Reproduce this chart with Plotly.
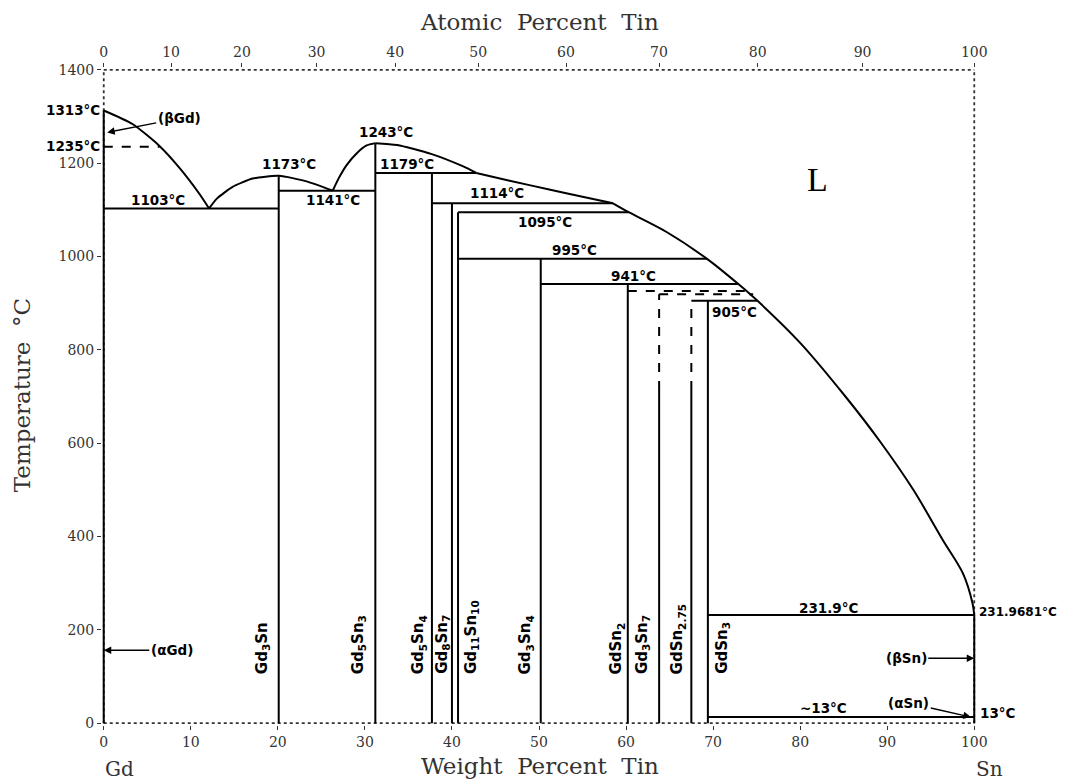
import plotly.graph_objects as go

# molar masses, used only to place the atomic-percent ticks on the top axis
M_GD = 157.25
M_SN = 118.71

# ---------------- data (wt% Sn, temperature in C) ----------------
# liquidus branches
liq_gd_x = [0, 3.3, 6.4, 8.7, 11.0, 12.1]
liq_gd_t = [1313, 1284, 1237, 1190, 1134, 1103]

liq_gd3sn_x = [12.1, 13.0, 14.8, 17.1, 20.1, 23.3, 26.3]
liq_gd3sn_t = [1103, 1124, 1149, 1167, 1173, 1161, 1141]

liq_gd5sn3_x = [26.3, 27.0, 27.9, 29.1, 30.2, 31.2]
liq_gd5sn3_t = [1141, 1168, 1196, 1222, 1238, 1243]

liq_a_x = [31.2, 33.7, 37.6, 41.3, 42.8]
liq_a_t = [1243, 1239, 1220, 1193, 1179]

liq_b_x = [42.8, 46.5, 51.3, 55.0, 58.5]
liq_b_t = [1179, 1163, 1143, 1128, 1114]

liq_c_x = [58.5, 60.3, 64.7, 69.3, 72.9, 75.1, 80.0, 85.2, 89.2, 93.0, 96.4, 98.7, 99.8, 100]
liq_c_t = [1114, 1095, 1052, 995, 941, 905, 815, 700, 603, 500, 392, 321, 257, 231.9681]

# solid invariant lines
iso_t = [1103, 1141, 1179, 1114, 1095, 995, 941, 905, 231.9681, 13]
iso_x0 = [0, 20.1, 31.2, 37.7, 40.7, 40.7, 50.2, 67.5, 69.4, 69.4]
iso_x1 = [20.1, 31.2, 42.8, 58.5, 60.3, 69.3, 72.9, 75.1, 100, 100]

# dashed (uncertain) horizontals
dash_iso_t = [1235, 926, 919]
dash_iso_x0 = [0, 60.2, 63.8]
dash_iso_x1 = [6.4, 74.0, 74.6]

# compounds and pure elements (vertical lines)
phase_x = [0, 20.1, 31.2, 37.7, 40.0, 40.7, 50.2, 60.2, 63.8, 67.5, 69.4, 100]
phase_top = [1313, 1173, 1243, 1179, 1114, 1095, 995, 941, 714, 714, 905, 231.9681]

dash_phase_x = [63.8, 67.5]
dash_phase_lo = [714, 714]
dash_phase_hi = [919, 905]

phase_names = ["Gd<sub>3</sub>Sn", "Gd<sub>5</sub>Sn<sub>3</sub>", "Gd<sub>5</sub>Sn<sub>4</sub>",
               "Gd<sub>8</sub>Sn<sub>7</sub>", "Gd<sub>11</sub>Sn<sub>10</sub>",
               "Gd<sub>3</sub>Sn<sub>4</sub>", "GdSn<sub>2</sub>", "Gd<sub>3</sub>Sn<sub>7</sub>",
               "GdSn<sub>2.75</sub>", "GdSn<sub>3</sub>"]
name_x = [18.2, 29.3, 36.2, 38.9, 42.2, 48.5, 58.9, 61.9, 65.9, 71.0]

temp_labels = ["1103°C", "1173°C", "1141°C", "1243°C", "1179°C", "1114°C", "1095°C",
               "995°C", "941°C", "905°C", "231.9°C", "~13°C"]
temp_x = [6.2, 21.3, 26.3, 32.4, 34.8, 45.2, 50.7, 54.1, 60.8, 72.4, 83.3, 82.7]
temp_t = [1121, 1199, 1121, 1267, 1199, 1136, 1074, 1014, 958, 881, 247, 32]

wt_ticks = list(range(0, 101, 10))
at_ticks = list(range(0, 101, 10))
t_ticks = list(range(0, 1401, 200))


def at_to_wt(a):
    return 100 * a * M_SN / (a * M_SN + (100 - a) * M_GD)


def segs(x0s, x1s, ys):
    xs, yy = [], []
    for a, b, y in zip(x0s, x1s, ys):
        xs += [a, b, None]
        yy += [y, y, None]
    return xs, yy


def vsegs(xs_in, lo, hi):
    xs, yy = [], []
    for x, a, b in zip(xs_in, lo, hi):
        xs += [x, x, None]
        yy += [a, b, None]
    return xs, yy


LINE = dict(color="black", width=2)
DASH = dict(color="black", width=2, dash="dash")
LBL = dict(family="DejaVu Sans", size=13.5, color="black", weight="bold")
VLBL = dict(family="DejaVu Sans", size=15, color="black", weight="bold")
TICKF = dict(family="DejaVu Serif", size=14, color="#333")
TITLEF = dict(family="DejaVu Serif", size=23, color="#333")

fig = go.Figure()

for lx, lt, sm in [(liq_gd_x, liq_gd_t, 0.6), (liq_gd3sn_x, liq_gd3sn_t, 0.6),
                   (liq_gd5sn3_x, liq_gd5sn3_t, 0.6), (liq_a_x, liq_a_t, 0.6),
                   (liq_b_x, liq_b_t, 0.6), (liq_c_x, liq_c_t, 0.9)]:
    fig.add_trace(go.Scatter(x=lx, y=lt, mode="lines",
                             line=dict(LINE, shape="spline", smoothing=sm),
                             hoverinfo="skip"))

hx, hy = segs(iso_x0, iso_x1, iso_t)
fig.add_trace(go.Scatter(x=hx, y=hy, mode="lines", line=LINE, hoverinfo="skip"))
hx, hy = segs(dash_iso_x0, dash_iso_x1, dash_iso_t)
fig.add_trace(go.Scatter(x=hx, y=hy, mode="lines", line=DASH, hoverinfo="skip"))

vx, vy = vsegs(phase_x, [0] * len(phase_x), phase_top)
fig.add_trace(go.Scatter(x=vx, y=vy, mode="lines", line=LINE, hoverinfo="skip"))
vx, vy = vsegs(dash_phase_x, dash_phase_lo, dash_phase_hi)
fig.add_trace(go.Scatter(x=vx, y=vy, mode="lines", line=DASH, hoverinfo="skip"))

# invisible trace so the top (atomic %) axis is drawn
fig.add_trace(go.Scatter(x=[0, 100], y=[0, 0], xaxis="x2", mode="markers",
                         marker=dict(opacity=0), hoverinfo="skip"))

# dotted frame
for x0, y0, x1, y1 in [(0, 1400, 100, 1400), (0, 0, 100, 0), (0, 0, 0, 1400), (100, 0, 100, 1400)]:
    fig.add_shape(type="line", xref="x", yref="y", x0=x0, y0=y0, x1=x1, y1=y1,
                  line=dict(color="#333", width=1.8, dash="dot"), layer="below")

ARR = dict(showarrow=True, arrowhead=2, arrowsize=1, arrowwidth=1.5, arrowcolor="black", font=LBL)
MID = dict(showarrow=False, xanchor="center", yanchor="middle", xref="paper", yref="paper")

ann = []
for txt, x, t in zip(temp_labels, temp_x, temp_t):
    ann.append(dict(x=x, y=t, text=txt, showarrow=False, font=LBL))
for txt, x in zip(phase_names, name_x):
    ann.append(dict(x=x, y=101, text=txt, showarrow=False, textangle=-90,
                    yanchor="bottom", font=VLBL))
ann += [
    dict(x=0, y=1313, text="1313°C", showarrow=False, xanchor="right", xshift=-2, font=LBL),
    dict(x=0, y=1237, text="1235°C", showarrow=False, xanchor="right", xshift=-2, font=LBL),
    dict(x=100, y=238, text="231.9681°C", showarrow=False, xanchor="left", xshift=3,
         font=dict(LBL, size=12)),
    dict(x=100, y=21, text="13°C", showarrow=False, xanchor="left", xshift=4, font=LBL),
    dict(ARR, x=0.4, y=1266, text="(βGd)", ax=72, ay=-14),
    dict(ARR, x=0, y=156, text="(αGd)", ax=68, ay=0),
    dict(ARR, x=100, y=139, text="(βSn)", ax=-68, ay=0),
    dict(ARR, x=99.6, y=13, text="(αSn)", ax=-62, ay=-14),
    dict(x=82.0, y=1166, text="L", showarrow=False,
         font=dict(family="Liberation Serif", size=34, color="black")),
    # axis titles and end members
    dict(MID, x=0.501, y=1.070, text="Atomic  Percent  Tin", font=TITLEF),
    dict(MID, x=0.501, y=-0.0624, text="Weight  Percent  Tin", font=TITLEF),
    dict(MID, x=-0.0915, y=0.502, text="Temperature  °C", textangle=-90, font=TITLEF),
    dict(MID, x=0.0195, y=-0.067, text="Gd", font=dict(family="DejaVu Serif", size=20, color="#333")),
    dict(MID, x=1.016, y=-0.067, text="Sn", font=dict(family="DejaVu Serif", size=20, color="#333")),
]

# the page body adds an 8px margin, so the figure is sized to fit inside the window
fig.update_layout(
    width=1060, height=774,
    margin=dict(l=94, r=92, t=60, b=57, autoexpand=False),
    paper_bgcolor="white", plot_bgcolor="white",
    showlegend=False,
    annotations=ann,
    xaxis=dict(range=[-0.2, 100.2], tickvals=wt_ticks, ticks="outside", ticklen=4,
               tickcolor="#333", showgrid=False, zeroline=False, showline=False,
               tickfont=TICKF, automargin=False),
    xaxis2=dict(range=[-0.2, 100.2], overlaying="x", side="top",
                tickvals=[at_to_wt(a) for a in at_ticks], ticktext=[str(a) for a in at_ticks],
                ticks="outside", ticklen=4, tickcolor="#333", showgrid=False, zeroline=False,
                showline=False, tickfont=TICKF, automargin=False),
    yaxis=dict(range=[-4, 1404], tickvals=t_ticks, ticks="outside", ticklen=4,
               tickcolor="#333", showgrid=False, zeroline=False, showline=False,
               tickfont=TICKF, automargin=False),
)

fig.write_html("out.html")
